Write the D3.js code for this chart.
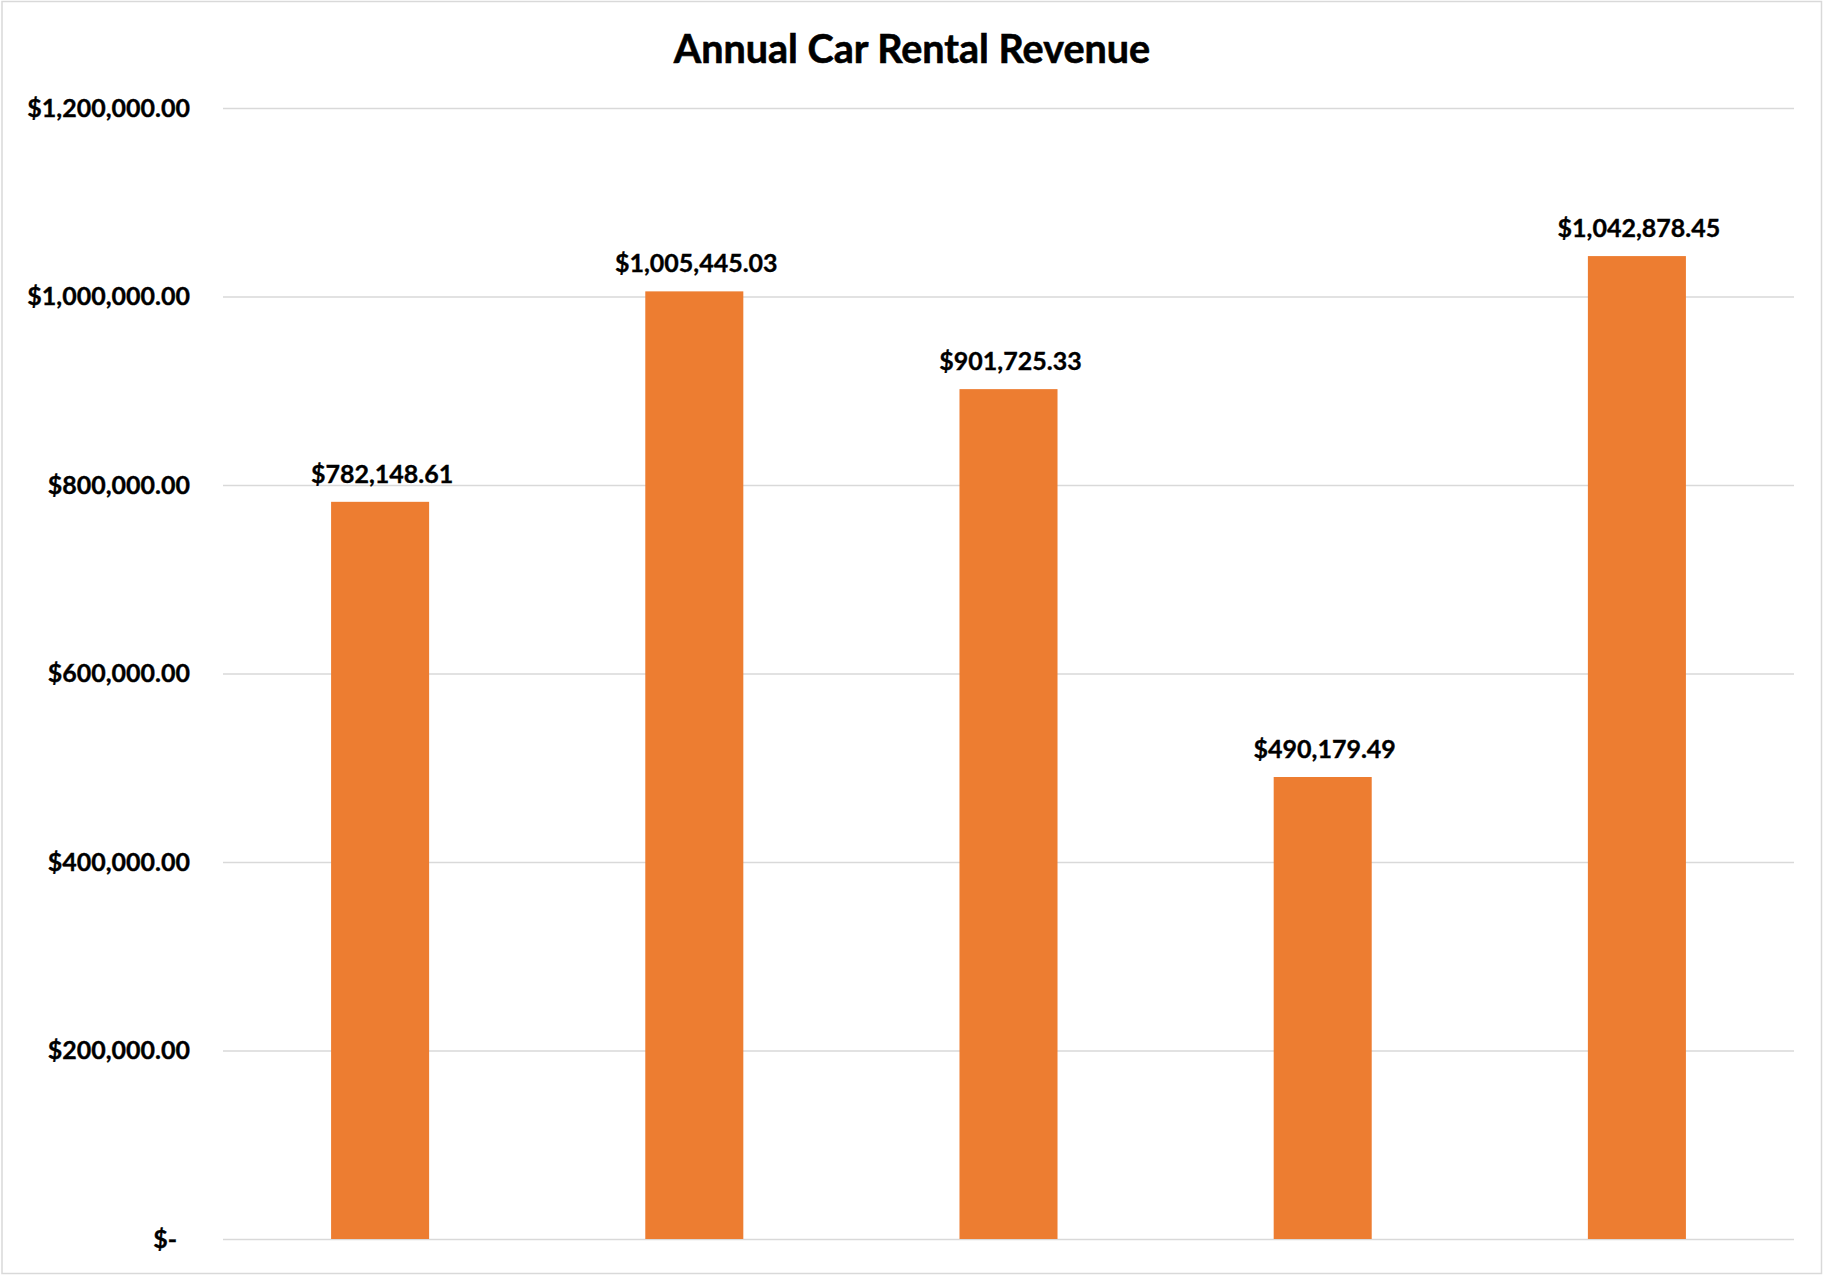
<!DOCTYPE html>
<html>
<head>
<meta charset="utf-8">
<script src="https://cdn.jsdelivr.net/npm/d3@7"></script>
<style>
  html, body { margin: 0; padding: 0; background: #ffffff; }
  svg { display: block; }
  text { font-family: Lato, "Open Sans", "Liberation Sans", sans-serif; font-weight: 700; fill: #000; }
</style>
</head>
<body>
<svg id="chart" width="1823" height="1275"></svg>
<script>
// Revenue per year
const categories = ["Year 1", "Year 2", "Year 3", "Year 4", "Year 5"];
const revenue = [782148.61, 1005445.03, 901725.33, 490179.49, 1042878.45];
const tickValues = [0, 200000, 400000, 600000, 800000, 1000000, 1200000];
const chartTitle = "Annual Car Rental Revenue";

const W = 1823, H = 1275;
const plot = { left: 223, right: 1794, top: 108, bottom: 1239 };

const svg = d3.select("#chart");

// chart area border
svg.append("rect")
  .attr("x", 2).attr("y", 1.5)
  .attr("width", W - 3.5).attr("height", H - 3)
  .attr("fill", "#fff")
  .attr("stroke", "#d9d9d9")
  .attr("stroke-width", 1.5);

const x = d3.scaleBand()
  .domain(categories)
  .range([plot.left, plot.right])
  .paddingInner(0.688)
  .paddingOuter(0.344);

const y = d3.scaleLinear()
  .domain([0, 1200000])
  .range([plot.bottom, plot.top]);

const money = d3.format("$,.2f");
const tickFmt = v => v === 0 ? "$-" : money(v);

// value axis with gridlines
const yAxis = d3.axisLeft(y)
  .tickValues(tickValues)
  .tickFormat(tickFmt)
  .tickSize(-(plot.right - plot.left))
  .tickPadding(33);

const gy = svg.append("g")
  .attr("transform", `translate(${plot.left},0)`)
  .call(yAxis);
gy.select(".domain").remove();
gy.selectAll(".tick line")
  .attr("stroke", "#d9d9d9")
  .attr("stroke-width", 1.5);
gy.selectAll(".tick text")
  .attr("font-size", 25)
  .attr("fill", "#000")
  .attr("stroke", "#000")
  .attr("stroke-width", 0.35)
  .style("font-family", "Lato, 'Open Sans', sans-serif")
  .style("font-weight", 700)
  .attr("dx", d => d === 0 ? -13 : 0);

// bars
svg.append("g")
  .selectAll("rect")
  .data(revenue)
  .join("rect")
  .attr("x", (d, i) => x(categories[i]))
  .attr("y", d => y(d))
  .attr("width", x.bandwidth())
  .attr("height", d => y(0) - y(d))
  .attr("fill", "#ED7D31");

// value labels
svg.append("g")
  .selectAll("text")
  .data(revenue)
  .join("text")
  .attr("x", (d, i) => x(categories[i]) + x.bandwidth() / 2 + 2)
  .attr("y", d => y(d) - 19)
  .attr("text-anchor", "middle")
  .attr("font-size", 25)
  .attr("stroke", "#000")
  .attr("stroke-width", 0.35)
  .text(d => money(d));

// title
svg.append("text")
  .attr("x", 912)
  .attr("y", 63)
  .attr("text-anchor", "middle")
  .attr("font-size", 39.5)
  .attr("stroke", "#000")
  .attr("stroke-width", 0.6)
  .text(chartTitle);
</script>
</body>
</html>
